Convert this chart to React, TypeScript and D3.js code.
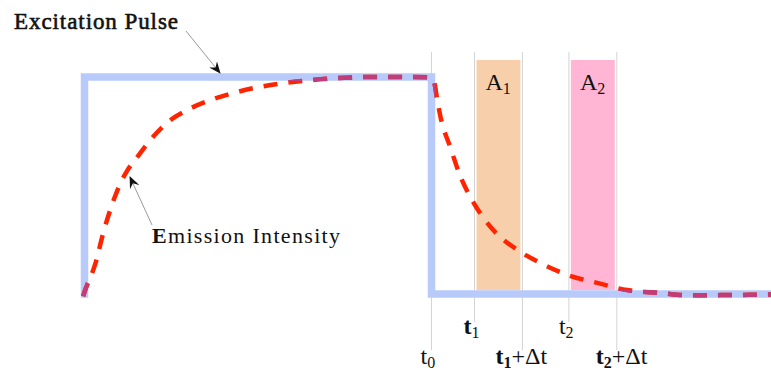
import React from "react";
import * as d3 from "d3";

// ---- data (time units, intensity 0..1) ----
const pulseT = [0, 0, 50, 50, 100];
const pulseI = [0, 1, 1, 0, 0];

const riseT = [-0.2, 0.1, 1.6, 2.7, 4.2, 5.2, 6.2, 7.6, 9.5, 12.4, 14.8, 18.2, 22.0, 26.8, 31.5, 36.4, 42.0, 46.0, 49.9];
const riseI = [-0.01, 0.018, 0.143, 0.281, 0.433, 0.512, 0.571, 0.631, 0.71, 0.802, 0.848, 0.894, 0.931, 0.963, 0.982, 0.995, 1.0, 1.0, 0.998];

const decayT = [50.0, 50.4, 50.8, 51.3, 52.7, 54.2, 56.1, 58.9, 62.4, 65.7, 69.6, 73.9, 78.2, 83.0, 86.9, 92.0, 100];
const decayI = [0.996, 0.975, 0.90, 0.816, 0.677, 0.539, 0.419, 0.295, 0.203, 0.143, 0.088, 0.051, 0.018, 0.005, -0.006, -0.005, -0.002];

const markerT = [50, 56.2, 63.1, 69.8, 76.7];
const markerNames = ["t0", "t1", "t1+Δt", "t2", "t2+Δt"];
const windowStart = [56.2, 69.8];
const windowEnd = [63.1, 76.7];
const windowNames = ["A1", "A2"];
const windowColors = ["#f7cfaa", "#ffb5d3"];

const W = 771;
const H = 373;

const FONT = '"Liberation Serif", "Times New Roman", Tinos, "DejaVu Serif", serif';

export default function App() {
  const x = d3.scaleLinear().domain([0, 100]).range([84.5, 778.5]);
  const y = d3.scaleLinear().domain([0, 1]).range([294, 77]);

  const pulseLine = d3
    .line<number>()
    .x((_, i) => x(pulseT[i]))
    .y((_, i) => y(pulseI[i]));
  const pulsePath = pulseLine(pulseT as any) || "";

  const riseLine = d3
    .line<number>()
    .x((_, i) => x(riseT[i]))
    .y((_, i) => y(riseI[i]))
    .curve(d3.curveMonotoneX);
  const decayLine = d3
    .line<number>()
    .x((_, i) => x(decayT[i]))
    .y((_, i) => y(decayI[i]))
    .curve(d3.curveMonotoneX);
  const emissionPath = (riseLine(riseT as any) || "") + (decayLine(decayT as any) || "").replace(/^M/, "L");

  const dash = "14 11";
  const ts = { fontFamily: FONT };

  const lineTop = 52;
  const lineBottomShort = 322;
  const lineBottomLong = 350;

  return (
    <svg
      width={W}
      height={H}
      style={{ position: "absolute", left: 0, top: 0, background: "#fff", fontFamily: FONT }}
    >
      <defs>
        <marker id="ah" viewBox="0 0 12 10" refX="11" refY="5" markerWidth="12" markerHeight="10" markerUnits="userSpaceOnUse" orient="auto">
          <path d="M0,0 L12,5 L0,10 L4,5 Z" fill="#111" />
        </marker>
        <mask id="pulseMask" maskUnits="userSpaceOnUse" x="0" y="0" width={W} height={H}>
          <rect x="0" y="0" width={W} height={H} fill="black" />
          <path d={pulsePath} fill="none" stroke="white" strokeWidth={8} strokeLinejoin="miter" strokeLinecap="square" />
        </mask>
      </defs>
      <rect x={0} y={0} width={W} height={H} fill="#fff" />

      {/* marker lines */}
      {markerT.map((t, i) => (
        <line
          key={"m" + i}
          x1={x(t)}
          x2={x(t)}
          y1={lineTop}
          y2={i === 1 || i === 3 ? lineBottomShort : lineBottomLong}
          stroke="#d4d4d4"
          strokeWidth={1}
        />
      ))}

      {/* gate windows */}
      {windowStart.map((t, i) => (
        <g key={"w" + i}>
          <rect
            x={x(t) + 2}
            y={60}
            width={x(windowEnd[i]) - x(t) - 4}
            height={y(0) - 60 - 4}
            fill={windowColors[i]}
          />
          <text x={x(t) + 11} y={90} fontSize={24} fill="#111" style={ts}>
            {windowNames[i][0]}
            <tspan fontSize={16} dy={4}>
              {windowNames[i].slice(1)}
            </tspan>
          </text>
        </g>
      ))}

      {/* excitation pulse */}
      <path d={pulsePath} fill="none" stroke="#b7cafa" strokeWidth={7.5} strokeLinejoin="miter" strokeLinecap="square" />

      {/* emission intensity */}
      <path d={emissionPath} fill="none" stroke="#ff2400" strokeWidth={4.5} strokeDasharray={dash} />
      <path d={emissionPath} fill="none" stroke="#c03d7a" strokeWidth={4.5} strokeDasharray={dash} mask="url(#pulseMask)" />

      {/* annotations */}
      <text x={14} y={29} fontSize={23} fill="#111" stroke="#111" strokeWidth={0.6} textLength={164} lengthAdjust="spacing" style={ts}>
        Excitation Pulse
      </text>
      <line x1={186} y1={31} x2={220} y2={73} stroke="#999" strokeWidth={1} markerEnd="url(#ah)" />

      <text x={152} y={243} fontSize={22} fill="#111" textLength={188} lengthAdjust="spacing" style={ts}>
        <tspan fontWeight="bold">E</tspan>mission Intensity
      </text>
      <line x1={152} y1={225} x2={130} y2={177} stroke="#999" strokeWidth={1} markerEnd="url(#ah)" />

      {/* time labels */}
      <text x={x(markerT[0]) - 11} y={364} fontSize={24} fill="#111" style={ts}>
        t<tspan fontSize={16} dy={4}>0</tspan>
      </text>
      <text x={x(markerT[1]) - 11} y={334} fontSize={24} fill="#111" fontWeight="bold" style={ts}>
        t<tspan fontSize={16} dy={4} fontWeight="normal">1</tspan>
      </text>
      <text x={x(markerT[3]) - 10} y={334} fontSize={24} fill="#111" style={ts}>
        t<tspan fontSize={16} dy={4}>2</tspan>
      </text>
      <text x={x(markerT[2]) - 27} y={364} fontSize={24} fill="#111" style={ts}>
        <tspan fontWeight="bold">t</tspan>
        <tspan fontSize={16} dy={4} fontWeight="bold">1</tspan>
        <tspan dy={-4}>+Δt</tspan>
      </text>
      <text x={x(markerT[4]) - 21} y={364} fontSize={24} fill="#111" style={ts}>
        <tspan fontWeight="bold">t</tspan>
        <tspan fontSize={16} dy={4} fontWeight="bold">2</tspan>
        <tspan dy={-4}>+Δt</tspan>
      </text>
    </svg>
  );
}
